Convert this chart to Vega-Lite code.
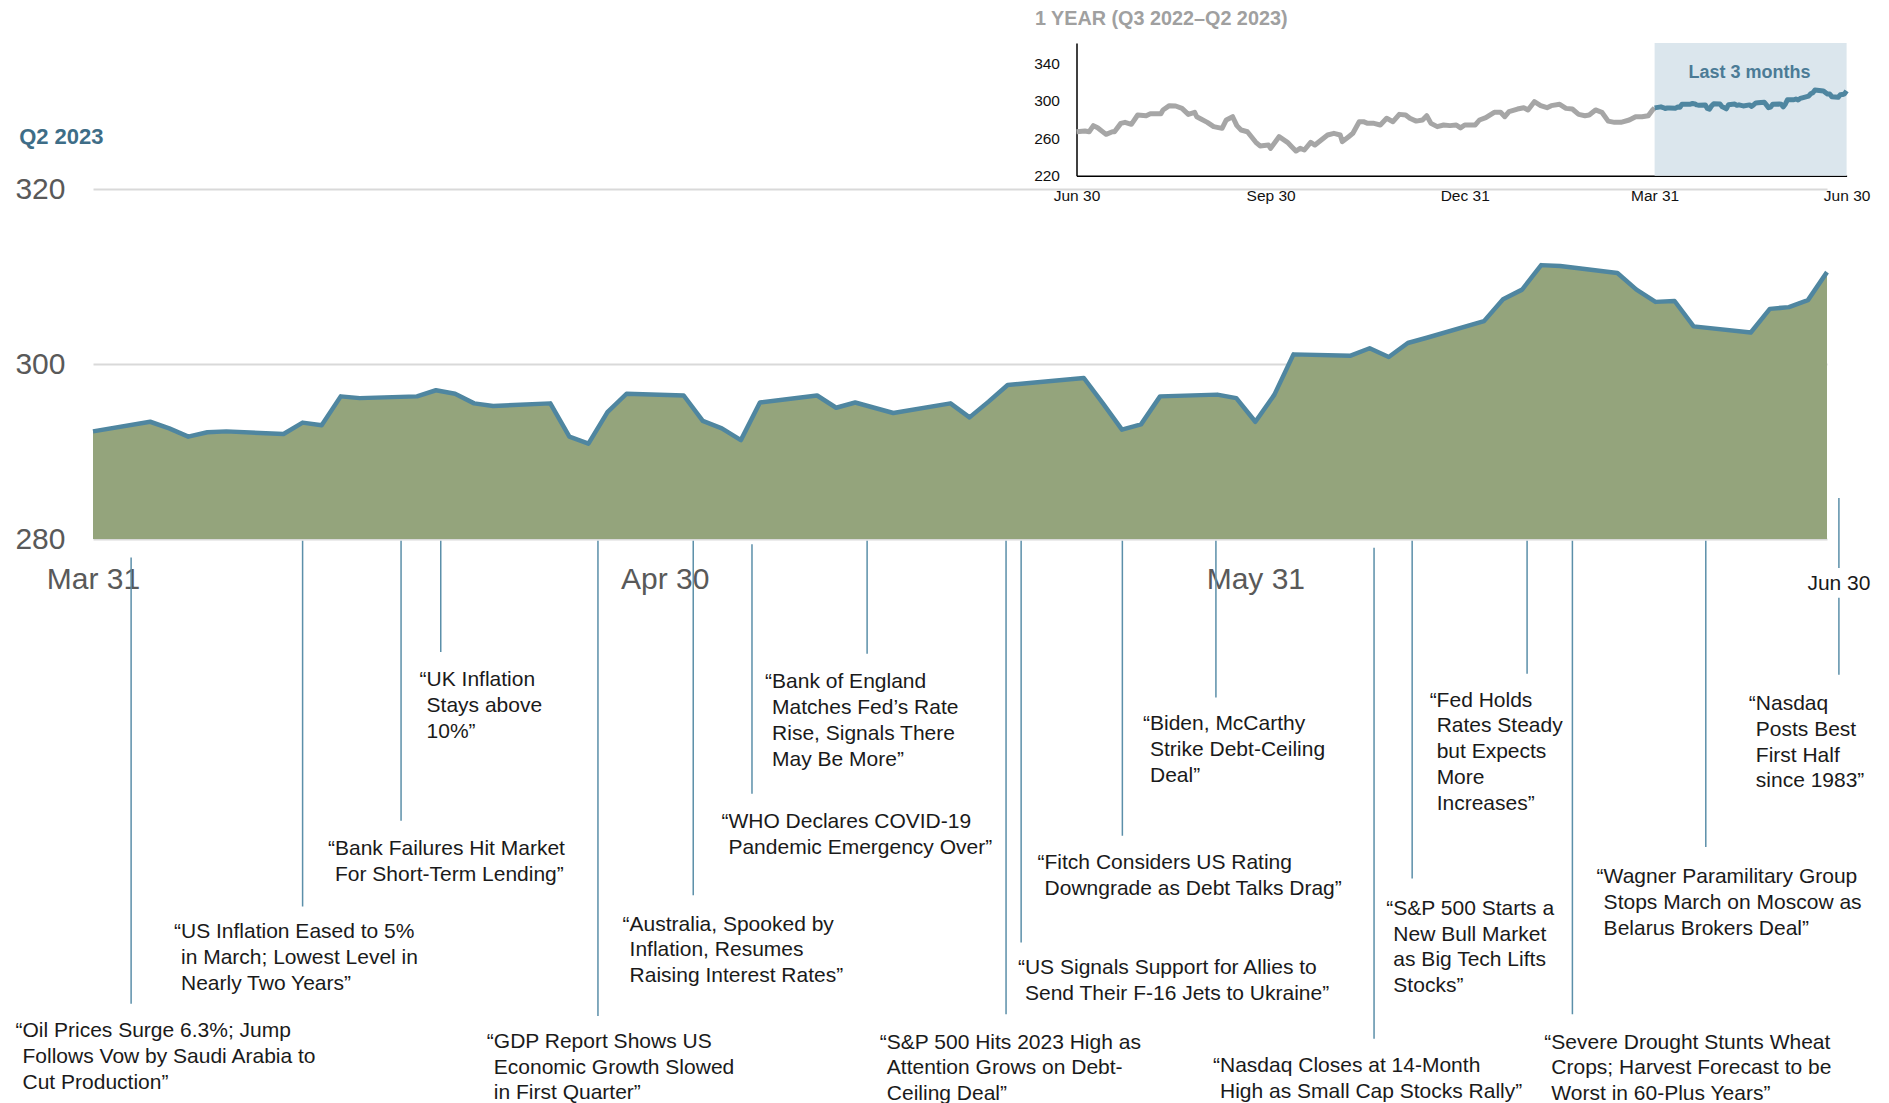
{
  "$schema": "https://vega.github.io/schema/vega-lite/v6.json",
  "autosize": {"type": "none"},
  "width": 1734,
  "height": 350,
  "padding": {"left": 93, "top": 189, "right": 62, "bottom": 564},
  "background": "white",
  "config": {"font": "Liberation Sans", "view": {"stroke": null}},
  "datasets": {
    "q2": [
      {"date": "2023-03-31", "value": 292.3},
      {"date": "2023-04-03", "value": 293.4},
      {"date": "2023-04-04", "value": 292.65},
      {"date": "2023-04-05", "value": 291.7},
      {"date": "2023-04-06", "value": 292.2},
      {"date": "2023-04-07", "value": 292.3},
      {"date": "2023-04-10", "value": 292.0},
      {"date": "2023-04-11", "value": 293.3},
      {"date": "2023-04-12", "value": 293.0},
      {"date": "2023-04-13", "value": 296.3},
      {"date": "2023-04-14", "value": 296.1},
      {"date": "2023-04-17", "value": 296.3},
      {"date": "2023-04-18", "value": 297.0},
      {"date": "2023-04-19", "value": 296.6},
      {"date": "2023-04-20", "value": 295.5},
      {"date": "2023-04-21", "value": 295.2},
      {"date": "2023-04-24", "value": 295.5},
      {"date": "2023-04-25", "value": 291.7},
      {"date": "2023-04-26", "value": 290.9},
      {"date": "2023-04-27", "value": 294.5},
      {"date": "2023-04-28", "value": 296.6},
      {"date": "2023-05-01", "value": 296.4},
      {"date": "2023-05-02", "value": 293.5},
      {"date": "2023-05-03", "value": 292.65},
      {"date": "2023-05-04", "value": 291.3},
      {"date": "2023-05-05", "value": 295.6},
      {"date": "2023-05-08", "value": 296.4},
      {"date": "2023-05-09", "value": 295.0},
      {"date": "2023-05-10", "value": 295.6},
      {"date": "2023-05-11", "value": 295.0},
      {"date": "2023-05-12", "value": 294.4},
      {"date": "2023-05-15", "value": 295.5},
      {"date": "2023-05-16", "value": 293.9},
      {"date": "2023-05-17", "value": 295.7},
      {"date": "2023-05-18", "value": 297.6},
      {"date": "2023-05-19", "value": 297.8},
      {"date": "2023-05-22", "value": 298.4},
      {"date": "2023-05-23", "value": 295.5},
      {"date": "2023-05-24", "value": 292.5},
      {"date": "2023-05-25", "value": 293.1},
      {"date": "2023-05-26", "value": 296.3},
      {"date": "2023-05-29", "value": 296.5},
      {"date": "2023-05-30", "value": 296.1},
      {"date": "2023-05-31", "value": 293.4},
      {"date": "2023-06-01", "value": 296.5},
      {"date": "2023-06-02", "value": 301.1},
      {"date": "2023-06-05", "value": 300.95},
      {"date": "2023-06-06", "value": 301.8},
      {"date": "2023-06-07", "value": 300.8},
      {"date": "2023-06-08", "value": 302.4},
      {"date": "2023-06-09", "value": 303.0},
      {"date": "2023-06-12", "value": 304.9},
      {"date": "2023-06-13", "value": 307.4},
      {"date": "2023-06-14", "value": 308.5},
      {"date": "2023-06-15", "value": 311.3},
      {"date": "2023-06-16", "value": 311.2},
      {"date": "2023-06-19", "value": 310.4},
      {"date": "2023-06-20", "value": 308.5},
      {"date": "2023-06-21", "value": 307.1},
      {"date": "2023-06-22", "value": 307.2},
      {"date": "2023-06-23", "value": 304.3},
      {"date": "2023-06-26", "value": 303.6},
      {"date": "2023-06-27", "value": 306.3},
      {"date": "2023-06-28", "value": 306.5},
      {"date": "2023-06-29", "value": 307.3},
      {"date": "2023-06-30", "value": 310.5}
    ],
    "year": [
      {"date": "2022-06-30", "value": 266.9},
      {"date": "2022-07-04", "value": 267.7},
      {"date": "2022-07-06", "value": 266.9},
      {"date": "2022-07-08", "value": 273.4},
      {"date": "2022-07-10", "value": 271.2},
      {"date": "2022-07-14", "value": 264.1},
      {"date": "2022-07-17", "value": 266.9},
      {"date": "2022-07-18", "value": 266.9},
      {"date": "2022-07-21", "value": 275.8},
      {"date": "2022-07-23", "value": 276.9},
      {"date": "2022-07-26", "value": 274.8},
      {"date": "2022-07-29", "value": 284.7},
      {"date": "2022-08-02", "value": 284.0},
      {"date": "2022-08-04", "value": 286.1},
      {"date": "2022-08-09", "value": 286.1},
      {"date": "2022-08-10", "value": 290.1},
      {"date": "2022-08-13", "value": 294.7},
      {"date": "2022-08-16", "value": 294.3},
      {"date": "2022-08-19", "value": 291.8},
      {"date": "2022-08-22", "value": 285.4},
      {"date": "2022-08-25", "value": 287.6},
      {"date": "2022-08-26", "value": 282.9},
      {"date": "2022-08-28", "value": 280.5},
      {"date": "2022-08-31", "value": 276.9},
      {"date": "2022-09-03", "value": 272.3},
      {"date": "2022-09-07", "value": 270.5},
      {"date": "2022-09-09", "value": 279.4},
      {"date": "2022-09-12", "value": 282.9},
      {"date": "2022-09-14", "value": 273.4},
      {"date": "2022-09-16", "value": 268.7},
      {"date": "2022-09-19", "value": 266.9},
      {"date": "2022-09-23", "value": 255.6},
      {"date": "2022-09-25", "value": 251.7},
      {"date": "2022-09-27", "value": 252.2},
      {"date": "2022-09-29", "value": 252.7},
      {"date": "2022-09-30", "value": 249.2},
      {"date": "2022-10-04", "value": 261.6},
      {"date": "2022-10-08", "value": 255.6},
      {"date": "2022-10-10", "value": 251.0},
      {"date": "2022-10-12", "value": 246.3},
      {"date": "2022-10-14", "value": 249.2},
      {"date": "2022-10-16", "value": 247.4},
      {"date": "2022-10-19", "value": 255.6},
      {"date": "2022-10-21", "value": 252.7},
      {"date": "2022-10-24", "value": 258.1},
      {"date": "2022-10-27", "value": 263.4},
      {"date": "2022-10-30", "value": 265.2},
      {"date": "2022-11-02", "value": 263.4},
      {"date": "2022-11-03", "value": 256.3},
      {"date": "2022-11-06", "value": 261.6},
      {"date": "2022-11-08", "value": 265.2},
      {"date": "2022-11-11", "value": 277.6},
      {"date": "2022-11-13", "value": 277.6},
      {"date": "2022-11-15", "value": 275.8},
      {"date": "2022-11-18", "value": 275.8},
      {"date": "2022-11-21", "value": 274.1},
      {"date": "2022-11-24", "value": 281.2},
      {"date": "2022-11-27", "value": 277.6},
      {"date": "2022-11-30", "value": 285.4},
      {"date": "2022-12-03", "value": 284.7},
      {"date": "2022-12-05", "value": 281.2},
      {"date": "2022-12-08", "value": 278.2},
      {"date": "2022-12-11", "value": 279.4},
      {"date": "2022-12-13", "value": 284.0},
      {"date": "2022-12-15", "value": 275.8},
      {"date": "2022-12-18", "value": 272.3},
      {"date": "2022-12-21", "value": 274.1},
      {"date": "2022-12-24", "value": 273.4},
      {"date": "2022-12-27", "value": 274.1},
      {"date": "2022-12-29", "value": 271.0},
      {"date": "2022-12-31", "value": 274.1},
      {"date": "2023-01-05", "value": 274.1},
      {"date": "2023-01-07", "value": 279.4},
      {"date": "2023-01-10", "value": 281.9},
      {"date": "2023-01-14", "value": 287.6},
      {"date": "2023-01-17", "value": 287.6},
      {"date": "2023-01-19", "value": 282.9},
      {"date": "2023-01-21", "value": 288.3},
      {"date": "2023-01-25", "value": 291.1},
      {"date": "2023-01-28", "value": 292.5},
      {"date": "2023-01-30", "value": 290.1},
      {"date": "2023-02-02", "value": 298.9},
      {"date": "2023-02-05", "value": 294.7},
      {"date": "2023-02-08", "value": 292.5},
      {"date": "2023-02-10", "value": 294.7},
      {"date": "2023-02-14", "value": 296.1},
      {"date": "2023-02-17", "value": 291.8},
      {"date": "2023-02-20", "value": 291.1},
      {"date": "2023-02-23", "value": 285.4},
      {"date": "2023-02-26", "value": 284.0},
      {"date": "2023-02-28", "value": 284.7},
      {"date": "2023-03-03", "value": 290.1},
      {"date": "2023-03-06", "value": 287.6},
      {"date": "2023-03-09", "value": 278.2},
      {"date": "2023-03-12", "value": 276.9},
      {"date": "2023-03-15", "value": 276.9},
      {"date": "2023-03-19", "value": 279.4},
      {"date": "2023-03-22", "value": 282.9},
      {"date": "2023-03-25", "value": 282.9},
      {"date": "2023-03-28", "value": 284.0},
      {"date": "2023-03-30", "value": 290.0},
      {"date": "2023-03-31", "value": 292.3}
    ],
    "leaders": [
      {"date": "2023-04-02", "top": 277.9, "bottom": 226.9},
      {"date": "2023-04-11", "top": 279.8, "bottom": 238.0},
      {"date": "2023-04-16T04:00:00Z", "top": 279.8, "bottom": 247.8},
      {"date": "2023-04-18T06:00:00Z", "top": 279.8, "bottom": 267.1},
      {"date": "2023-04-26T12:00:00Z", "top": 279.8, "bottom": 225.5},
      {"date": "2023-05-01T12:00:00Z", "top": 279.8, "bottom": 239.3},
      {"date": "2023-05-04T14:00:00Z", "top": 279.4, "bottom": 250.9},
      {"date": "2023-05-10T15:00:00Z", "top": 279.8, "bottom": 266.9},
      {"date": "2023-05-17T22:00:00Z", "top": 279.8, "bottom": 225.7},
      {"date": "2023-05-18T17:00:00Z", "top": 279.8, "bottom": 233.9},
      {"date": "2023-05-24T00:30:00Z", "top": 279.8, "bottom": 246.1},
      {"date": "2023-05-28T22:20:00Z", "top": 279.8, "bottom": 261.9},
      {"date": "2023-06-06T05:30:00Z", "top": 279.0, "bottom": 222.9},
      {"date": "2023-06-08T05:30:00Z", "top": 279.8, "bottom": 241.2},
      {"date": "2023-06-14T06:15:00Z", "top": 279.8, "bottom": 264.6},
      {"date": "2023-06-16T15:20:00Z", "top": 279.8, "bottom": 225.7},
      {"date": "2023-06-23T15:20:00Z", "top": 279.8, "bottom": 244.8},
      {"date": "2023-06-30T15:00:00Z", "top": 284.7, "bottom": 276.7},
      {"date": "2023-06-30T15:00:00Z", "top": 273.3, "bottom": 264.5}
    ],
    "headlines": [
      {"label_date": "2023-03-26T22:24:00Z", "label_top": 225.0, "headline": "“Oil Prices Surge 6.3%; Jump\n\u200b\u2004Follows Vow by Saudi Arabia to\n\u200b\u2004Cut Production”"},
      {"label_date": "2023-04-04T06:00:00Z", "label_top": 236.3, "headline": "“US Inflation Eased to 5%\n\u200b\u2004in March; Lowest Level in\n\u200b\u2004Nearly Two Years”"},
      {"label_date": "2023-04-12T08:00:00Z", "label_top": 245.8, "headline": "“Bank Failures Hit Market\n\u200b\u2004For Short-Term Lending”"},
      {"label_date": "2023-04-17T03:20:00Z", "label_top": 265.1, "headline": "“UK Inflation\n\u200b\u2004Stays above\n\u200b\u200410%”"},
      {"label_date": "2023-04-20T16:00:00Z", "label_top": 223.8, "headline": "“GDP Report Shows US\n\u200b\u2004Economic Growth Slowed\n\u200b\u2004in First Quarter”"},
      {"label_date": "2023-04-27T19:00:00Z", "label_top": 237.2, "headline": "“Australia, Spooked by\n\u200b\u2004Inflation, Resumes\n\u200b\u2004Raising Interest Rates”"},
      {"label_date": "2023-05-02T23:30:00Z", "label_top": 248.9, "headline": "“WHO Declares COVID-19\n\u200b\u2004Pandemic Emergency Over”"},
      {"label_date": "2023-05-05T06:30:00Z", "label_top": 264.9, "headline": "“Bank of England\n\u200b\u2004Matches Fed’s Rate\n\u200b\u2004Rise, Signals There\n\u200b\u2004May Be More”"},
      {"label_date": "2023-05-11T07:00:00Z", "label_top": 223.7, "headline": "“S&P 500 Hits 2023 High as\n\u200b\u2004Attention Grows on Debt-\n\u200b\u2004Ceiling Deal”"},
      {"label_date": "2023-05-18T13:00:00Z", "label_top": 232.2, "headline": "“US Signals Support for Allies to\n\u200b\u2004Send Their F-16 Jets to Ukraine”"},
      {"label_date": "2023-05-19T13:40:00Z", "label_top": 244.2, "headline": "“Fitch Considers US Rating\n\u200b\u2004Downgrade as Debt Talks Drag”"},
      {"label_date": "2023-05-25T02:30:00Z", "label_top": 260.1, "headline": "“Biden, McCarthy\n\u200b\u2004Strike Debt-Ceiling\n\u200b\u2004Deal”"},
      {"label_date": "2023-05-28T18:40:00Z", "label_top": 221.0, "headline": "“Nasdaq Closes at 14-Month\n\u200b\u2004High as Small Cap Stocks Rally”"},
      {"label_date": "2023-06-06T21:00:00Z", "label_top": 239.0, "headline": "“S&P 500 Starts a\n\u200b\u2004New Bull Market\n\u200b\u2004as Big Tech Lifts\n\u200b\u2004Stocks”"},
      {"label_date": "2023-06-09T03:30:00Z", "label_top": 262.8, "headline": "“Fed Holds\n\u200b\u2004Rates Steady\n\u200b\u2004but Expects\n\u200b\u2004More\n\u200b\u2004Increases”"},
      {"label_date": "2023-06-15T04:00:00Z", "label_top": 223.7, "headline": "“Severe Drought Stunts Wheat\n\u200b\u2004Crops; Harvest Forecast to be\n\u200b\u2004Worst in 60-Plus Years”"},
      {"label_date": "2023-06-17T21:50:00Z", "label_top": 242.6, "headline": "“Wagner Paramilitary Group\n\u200b\u2004Stops March on Moscow as\n\u200b\u2004Belarus Brokers Deal”"},
      {"label_date": "2023-06-25T21:30:00Z", "label_top": 262.4, "headline": "“Nasdaq\n\u200b\u2004Posts Best\n\u200b\u2004First Half\n\u200b\u2004since 1983”"}
    ]
  },
  "resolve": {"scale": {"x": "independent", "y": "independent"}, "axis": {"x": "independent", "y": "independent"}},
  "layer": [
    {
      "data": {"name": "q2"},
      "mark": {"type": "area", "color": "#94a47c"},
      "encoding": {
        "x": {"field": "date", "type": "temporal",
          "scale": {"type": "utc", "nice": false, "domain": [{"year": 2023, "month": 3, "date": 31, "utc": true}, {"year": 2023, "month": 6, "date": 30, "utc": true}], "range": [0, 1734]},
          "axis": {"orient": "bottom", "title": null, "values": [{"year": 2023, "month": 3, "date": 31, "utc": true}, {"year": 2023, "month": 4, "date": 30, "utc": true}, {"year": 2023, "month": 5, "date": 31, "utc": true}], "labelExpr": "utcFormat(datum.value, '%b %d')", "domain": false, "ticks": false, "tickSize": 0, "grid": false, "labelFontSize": 30, "labelColor": "#595959", "labelPadding": 25.6, "labelFlush": false, "labelOverlap": false}},
        "y": {"field": "value", "type": "quantitative",
          "scale": {"domain": [280, 320], "range": [350, 0], "zero": false, "nice": false},
          "axis": {"orient": "left", "title": null, "values": [280, 300, 320], "domain": false, "ticks": false, "tickSize": 0, "grid": true, "gridColor": "#d9d9d9", "gridWidth": 2, "labelFontSize": 30, "labelColor": "#595959", "labelPadding": 28}},
        "y2": {"datum": 280}
      }
    },
    {
      "data": {"name": "q2"},
      "mark": {"type": "line", "color": "#4f86a0", "strokeWidth": 4.5, "strokeJoin": "round"},
      "encoding": {
        "x": {"field": "date", "type": "temporal", "axis": null,
          "scale": {"type": "utc", "nice": false, "domain": [{"year": 2023, "month": 3, "date": 31, "utc": true}, {"year": 2023, "month": 6, "date": 30, "utc": true}], "range": [0, 1734]}},
        "y": {"field": "value", "type": "quantitative", "axis": null,
          "scale": {"domain": [280, 320], "range": [350, 0], "zero": false, "nice": false}}
      }
    },
    {
      "data": {"name": "leaders"},
      "mark": {"type": "rule", "color": "#5b8fa9", "strokeWidth": 1.5},
      "encoding": {
        "x": {"field": "date", "type": "temporal", "axis": null,
          "scale": {"type": "utc", "nice": false, "domain": [{"year": 2023, "month": 3, "date": 31, "utc": true}, {"year": 2023, "month": 6, "date": 30, "utc": true}], "range": [0, 1734]}},
        "y": {"field": "top", "type": "quantitative", "axis": null,
          "scale": {"domain": [280, 320], "range": [350, 0], "zero": false, "nice": false}},
        "y2": {"field": "bottom"}
      }
    },
    {
      "data": {"name": "headlines"},
      "mark": {"type": "text", "align": "left", "baseline": "top", "fontSize": 21, "lineHeight": 25.8, "lineBreak": "\n", "color": "#1a1a1a"},
      "encoding": {
        "x": {"field": "label_date", "type": "temporal", "axis": null,
          "scale": {"type": "utc", "nice": false, "domain": [{"year": 2023, "month": 3, "date": 31, "utc": true}, {"year": 2023, "month": 6, "date": 30, "utc": true}], "range": [0, 1734]}},
        "y": {"field": "label_top", "type": "quantitative", "axis": null,
          "scale": {"domain": [280, 320], "range": [350, 0], "zero": false, "nice": false}},
        "text": {"field": "headline"}
      }
    },
    {
      "data": {"values": [{}]},
      "mark": {"type": "text", "align": "left", "baseline": "middle", "fontSize": 22, "fontWeight": "bold", "color": "#3e6d87"},
      "encoding": {
        "x": {"datum": {"year": 2023, "month": 3, "date": 27, "hours": 3, "utc": true}, "type": "temporal", "axis": null,
          "scale": {"type": "utc", "nice": false, "domain": [{"year": 2023, "month": 3, "date": 31, "utc": true}, {"year": 2023, "month": 6, "date": 30, "utc": true}], "range": [0, 1734]}},
        "y": {"datum": 326.0, "type": "quantitative", "axis": null,
          "scale": {"domain": [280, 320], "range": [350, 0], "zero": false, "nice": false}},
        "text": {"value": "Q2 2023"}
      }
    },
    {
      "data": {"values": [{}]},
      "mark": {"type": "text", "align": "center", "baseline": "middle", "fontSize": 21, "color": "#1a1a1a"},
      "encoding": {
        "x": {"datum": {"year": 2023, "month": 6, "date": 30, "hours": 15, "utc": true}, "type": "temporal", "axis": null,
          "scale": {"type": "utc", "nice": false, "domain": [{"year": 2023, "month": 3, "date": 31, "utc": true}, {"year": 2023, "month": 6, "date": 30, "utc": true}], "range": [0, 1734]}},
        "y": {"datum": 274.9, "type": "quantitative", "axis": null,
          "scale": {"domain": [280, 320], "range": [350, 0], "zero": false, "nice": false}},
        "text": {"value": "Jun 30"}
      }
    },
    {
      "data": {"values": [{}]},
      "mark": {"type": "rect", "color": "#dbe6ed"},
      "encoding": {
        "x": {"datum": {"year": 2023, "month": 3, "date": 31, "utc": true}, "type": "temporal", "axis": null,
          "scale": {"type": "utc", "nice": false, "domain": [{"year": 2022, "month": 6, "date": 30, "utc": true}, {"year": 2023, "month": 6, "date": 30, "utc": true}], "range": [983.5, 1753.6]}},
        "x2": {"datum": {"year": 2023, "month": 6, "date": 30, "utc": true}},
        "y": {"datum": 220, "type": "quantitative", "axis": null,
          "scale": {"domain": [220, 361.5], "range": [-13.3, -146], "zero": false, "nice": false}},
        "y2": {"datum": 361.5}
      }
    },
    {
      "data": {"name": "year"},
      "mark": {"type": "line", "color": "#a6a6a6", "strokeWidth": 5, "strokeJoin": "round"},
      "encoding": {
        "x": {"field": "date", "type": "temporal",
          "scale": {"type": "utc", "nice": false, "domain": [{"year": 2022, "month": 6, "date": 30, "utc": true}, {"year": 2023, "month": 6, "date": 30, "utc": true}], "range": [983.5, 1753.6]},
          "axis": {"orient": "bottom", "offset": -363.3, "title": null, "values": [{"year": 2022, "month": 6, "date": 30, "utc": true}, {"year": 2022, "month": 9, "date": 30, "utc": true}, {"year": 2022, "month": 12, "date": 31, "utc": true}, {"year": 2023, "month": 3, "date": 31, "utc": true}, {"year": 2023, "month": 6, "date": 30, "utc": true}], "labelExpr": "utcFormat(datum.value, '%b %d')", "domain": true, "domainColor": "#000000", "domainWidth": 1.5, "ticks": false, "tickSize": 0, "grid": false, "labelFontSize": 15.5, "labelColor": "#111111", "labelPadding": 12.6, "labelFlush": false, "labelOverlap": false}},
        "y": {"field": "value", "type": "quantitative",
          "scale": {"domain": [220, 361.5], "range": [-13.3, -146], "zero": false, "nice": false},
          "axis": {"orient": "left", "offset": -983.5, "title": null, "values": [220, 260, 300, 340], "domain": true, "domainColor": "#000000", "domainWidth": 1.5, "ticks": false, "tickSize": 0, "grid": false, "labelFontSize": 15.5, "labelColor": "#111111", "labelPadding": 17}}
      }
    },
    {
      "data": {"name": "q2"},
      "mark": {"type": "line", "color": "#4f86a0", "strokeWidth": 5, "strokeJoin": "round"},
      "encoding": {
        "x": {"field": "date", "type": "temporal", "axis": null,
          "scale": {"type": "utc", "nice": false, "domain": [{"year": 2022, "month": 6, "date": 30, "utc": true}, {"year": 2023, "month": 6, "date": 30, "utc": true}], "range": [983.5, 1753.6]}},
        "y": {"field": "value", "type": "quantitative", "axis": null,
          "scale": {"domain": [220, 361.5], "range": [-13.3, -146], "zero": false, "nice": false}}
      }
    },
    {
      "data": {"values": [{}]},
      "mark": {"type": "text", "align": "center", "baseline": "middle", "fontSize": 18, "fontWeight": "bold", "color": "#4b7b96"},
      "encoding": {
        "x": {"datum": {"year": 2023, "month": 5, "date": 15, "utc": true}, "type": "temporal", "axis": null,
          "scale": {"type": "utc", "nice": false, "domain": [{"year": 2022, "month": 6, "date": 30, "utc": true}, {"year": 2023, "month": 6, "date": 30, "utc": true}], "range": [983.5, 1753.6]}},
        "y": {"datum": 329.2, "type": "quantitative", "axis": null,
          "scale": {"domain": [220, 361.5], "range": [-13.3, -146], "zero": false, "nice": false}},
        "text": {"value": "Last 3 months"}
      }
    },
    {
      "data": {"values": [{}]},
      "mark": {"type": "text", "align": "left", "baseline": "middle", "fontSize": 19.8, "fontWeight": "bold", "color": "#a0a0a0"},
      "encoding": {
        "x": {"datum": {"year": 2022, "month": 6, "date": 10, "hours": 7, "utc": true}, "type": "temporal", "axis": null,
          "scale": {"type": "utc", "nice": false, "domain": [{"year": 2022, "month": 6, "date": 30, "utc": true}, {"year": 2023, "month": 6, "date": 30, "utc": true}], "range": [983.5, 1753.6]}},
        "y": {"datum": 387.1, "type": "quantitative", "axis": null,
          "scale": {"domain": [220, 361.5], "range": [-13.3, -146], "zero": false, "nice": false}},
        "text": {"value": "1 YEAR (Q3 2022–Q2 2023)"}
      }
    }
  ]
}
